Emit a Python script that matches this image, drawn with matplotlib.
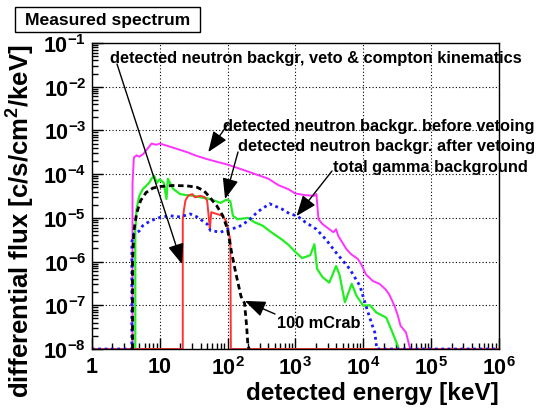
import numpy as np
import matplotlib
matplotlib.use('Agg')
import matplotlib.pyplot as plt
from matplotlib.ticker import LogLocator, NullFormatter
from matplotlib.patches import Rectangle

# data (energy in keV, flux in c/s/cm2/keV)
before_E = [3.98, 3.98, 4.17, 4.57, 5.01, 5.75, 6.61, 7.59, 8.91, 10, 11.5, 13.2, 17.8, 25.1, 35.5, 50.1,
            70.8, 100, 141, 200, 282, 398, 562, 794, 1000, 1413, 1905, 2042, 2188, 2512, 3162, 3631, 3981,
            4266, 5623, 6607, 8318, 9333, 10965, 13804, 17378, 21380, 23988, 28840, 32359, 35481, 42658,
            47863, 48978]
before_f = [1e-8, 6.3e-5, 2.4e-4, 2.7e-4, 2.5e-4, 2.9e-4, 3.8e-4, 5.0e-4, 4.7e-4, 5.0e-4, 4.7e-4, 4.4e-4,
            3.8e-4, 3.2e-4, 2.6e-4, 2.2e-4, 1.9e-4, 1.66e-4, 1.38e-4, 1.15e-4, 9.5e-5, 7.9e-5, 5.6e-5,
            4.5e-5, 3.6e-5, 3.3e-5, 3.2e-5, 3.5e-5, 9.3e-6, 7.2e-6, 5.5e-6, 4.7e-6, 5.5e-6, 3.9e-6, 1.95e-6,
            1.48e-6, 1.15e-6, 8.7e-7, 5.1e-7, 3.6e-7, 3.1e-7, 2.3e-7, 1.8e-7, 9.8e-8, 5.8e-8, 3.4e-8,
            2.4e-8, 1.17e-8, 1e-8]

after_E = [4.37, 4.37, 4.57, 5.01, 5.62, 6.31, 7.08, 7.59, 8.32, 9.12, 10, 11.5, 12.6, 13.2, 15.8, 20, 25.1,
           31.6, 39.8, 50.1, 63.1, 79.4, 91.2, 100, 110, 120, 141, 200, 251, 331, 417, 525, 631, 794, 1000,
           1259, 1660, 1905, 2089, 2512, 3162, 3981, 4467, 5370, 6761, 7943, 10000, 12589, 15488, 21878,
           26915, 32359, 33113]
after_f = [1e-8, 5.0e-6, 1.6e-5, 3.2e-5, 4.5e-5, 5.4e-5, 6.5e-5, 7.9e-5, 9.1e-5, 6.3e-5, 7.6e-5, 6.3e-5,
           2.7e-5, 7.8e-5, 4.6e-5, 3.5e-5, 3.3e-5, 3.2e-5, 2.95e-5, 2.8e-5, 2.5e-5, 2.2e-5, 2.5e-5, 2.6e-5,
           2.4e-5, 1.12e-5, 9.3e-6, 1.0e-5, 7.9e-6, 6.6e-6, 5.0e-6, 3.9e-6, 3.2e-6, 2.4e-6, 1.66e-6, 1.2e-6,
           1.4e-6, 2.5e-6, 6.8e-7, 4.4e-7, 3.3e-7, 7.9e-7, 5.0e-7, 1.17e-7, 3.1e-7, 1.66e-7, 9.8e-8, 1e-7,
           6.9e-8, 5.2e-8, 2.4e-8, 1.17e-8, 1e-8]

compton_E = [1, 21.9, 21.9, 22.9, 24, 26.3, 30.2, 33.1, 39.8, 45.7, 50.1, 55, 57.5, 69.2, 83.2, 95.5, 105,
             110, 112, 1e6]
compton_f = [1e-8, 1e-8, 9.3e-6, 1.6e-5, 2.5e-5, 3.2e-5, 3.5e-5, 2.95e-5, 3.2e-5, 3.0e-5, 2.5e-5, 5.5e-6,
             1.35e-5, 1.23e-5, 1.12e-5, 8.5e-6, 4.3e-6, 3.2e-6, 1e-8, 1e-8]

gamma_E = [1, 3.89, 3.89, 4.17, 5.01, 5.62, 7.24, 10, 14.1, 20, 28.2, 35.5, 50.1, 56.2, 79.4, 100, 141, 200,
           282, 417, 631, 832, 1047, 1413, 2042, 2818, 3981, 6310, 8913, 11749, 13183, 14791, 15849, 1e6]
gamma_f = [1e-8, 1e-8, 2.8e-6, 4.3e-6, 5.0e-6, 6.6e-6, 8.5e-6, 1.02e-5, 1.12e-5, 1.05e-5, 1.23e-5, 1.05e-5,
           7.2e-6, 5.1e-6, 4.7e-6, 5.5e-6, 6.0e-6, 8.5e-6, 1.4e-5, 2.1e-5, 1.6e-5, 1.23e-5, 1.12e-5, 7.9e-6,
           5.5e-6, 3.2e-6, 1.6e-6, 6.8e-7, 2.8e-7, 6.9e-8, 4.0e-8, 2.4e-8, 1e-8, 1e-8]

crab_E = [3.98, 3.98, 4.17, 4.57, 5.25, 6.31, 7.94, 10, 15.8, 25.1, 35.5, 44.7, 52.5, 69.2, 85.1, 100, 115,
          132, 158, 178, 191, 200, 209]
crab_f = [1e-8, 1e-6, 5.0e-6, 1.26e-5, 2.5e-5, 3.8e-5, 4.8e-5, 5.2e-5, 5.5e-5, 5.4e-5, 5.0e-5, 4.2e-5,
          3.2e-5, 1.9e-5, 1.12e-5, 5.5e-6, 1.6e-6, 5.6e-7, 1.6e-7, 1.12e-7, 3.4e-8, 1.17e-8, 1e-8]

xticks = [1, 10, 1e2, 1e3, 1e4, 1e5, 1e6]
xtick_labels = ['1', '10', '$10^{2}$', '$10^{3}$', '$10^{4}$', '$10^{5}$', '$10^{6}$']
yticks = [1e-8, 1e-7, 1e-6, 1e-5, 1e-4, 1e-3, 1e-2, 1e-1]
ytick_labels = ['$10^{-8}$', '$10^{-7}$', '$10^{-6}$', '$10^{-5}$', '$10^{-4}$', '$10^{-3}$',
                '$10^{-2}$', '$10^{-1}$']

plt.rcParams['font.family'] = 'Liberation Sans'
plt.rcParams['font.weight'] = 'bold'
plt.rcParams['axes.labelweight'] = 'bold'
plt.rcParams['mathtext.fontset'] = 'custom'
plt.rcParams['mathtext.rm'] = 'Liberation Sans:bold'
plt.rcParams['mathtext.it'] = 'Liberation Sans:bold'
plt.rcParams['mathtext.bf'] = 'Liberation Sans:bold'
plt.rcParams['mathtext.sf'] = 'Liberation Sans:bold'

fig = plt.figure(figsize=(5.4, 4.1), dpi=100)
ax = fig.add_axes([0.170, 0.1463, 0.754, 0.7464])

ax.plot(before_E, before_f, color='#ff33ff', lw=1.4)
ax.plot(after_E, after_f, color='#22ee22', lw=1.6)
ax.plot(compton_E, compton_f, color='#ff3333', lw=1.4)
ax.plot(gamma_E, gamma_f, color='#1a1aff', lw=2.0, linestyle=(0, (1, 1.3)))
ax.plot(crab_E, crab_f, color='black', lw=2.0, linestyle=(0, (2, 1.3)))

ax.set_xscale('log')
ax.set_yscale('log')
ax.set_xlim(1, 1e6)
ax.set_ylim(1e-8, 1e-1)

ax.set_xticks(xticks, xtick_labels, fontsize=15.5)
ax.set_yticks(yticks, ytick_labels, fontsize=15.5)
ax.xaxis.set_minor_locator(LogLocator(base=10, subs=np.arange(2, 10), numticks=100))
ax.yaxis.set_minor_locator(LogLocator(base=10, subs=np.arange(2, 10), numticks=100))
ax.xaxis.set_minor_formatter(NullFormatter())
ax.yaxis.set_minor_formatter(NullFormatter())
ax.tick_params(which='both', direction='in', top=False, right=False, width=1)
ax.tick_params(which='major', length=8, pad=4)
ax.tick_params(which='minor', length=4)
ax.tick_params(axis='x', which='major', pad=5)

ax.grid(True, which='major', color='black', linestyle=(0, (1, 2)), lw=0.8)
for s in ax.spines.values():
    s.set_linewidth(1.0)

ax.set_xlabel('detected energy [keV]', fontsize=17.5, fontweight='bold', loc='right')
ax.set_ylabel('differential flux [c/s/cm$^{2}$/keV]', fontsize=18.5, fontweight='bold', loc='top')
ax.yaxis.set_label_coords(-0.135, 1.0)
ax.xaxis.set_label_coords(1.0, -0.103)

# title box
fig.patches.append(Rectangle((15 / 540, 1 - 33 / 410), 185 / 540, 25 / 410, transform=fig.transFigure,
                             facecolor='white', edgecolor='black', lw=1))
fig.text(107.5 / 540, 1 - 21 / 410, 'Measured spectrum', fontsize=12.6, ha='center', va='center')

# annotations: (text, text left px, text y px, arrow start px, arrow tip in data)
arrow_kw = dict(arrowstyle='-|>,head_length=0.9,head_width=0.35', mutation_scale=14,
                color='black', lw=1, shrinkA=0, shrinkB=0)
notes = [
    ('detected neutron backgr, veto & compton kinematics', 110, 59, (117, 65), (21.4, 8.7e-7)),
    ('detected neutron backgr. before vetoing', 223, 127, (228, 125), (52, 3.2e-4)),
    ('detected neutron backgr. after vetoing', 238, 147, (238, 153), (92, 2.7e-5)),
    ('total gamma background', 333, 168, (332, 172), (1040, 1.1e-5)),
    ('100 mCrab', 277, 324, (275, 315), (180, 1.26e-7)),
]
for txt, tx, ty, start, tip in notes:
    fig.text(tx / 540, 1 - ty / 410, txt, fontsize=11.8, ha='left', va='center')
    ax.annotate('', xy=tip, xycoords='data', xytext=(start[0], 410 - start[1]),
                textcoords='figure pixels', arrowprops=arrow_kw, annotation_clip=False)

fig.savefig('out.png', dpi=100)
